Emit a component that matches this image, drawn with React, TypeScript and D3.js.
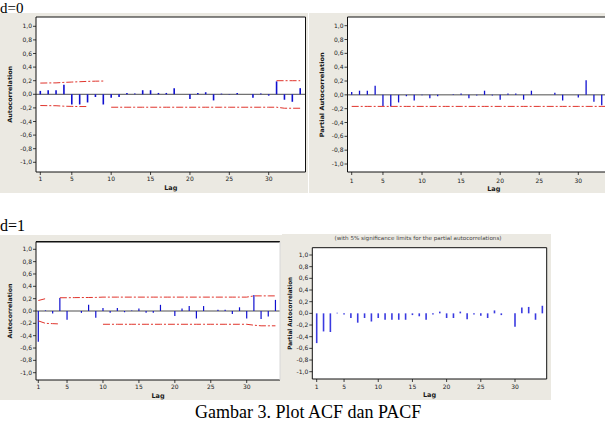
import React from 'react';
import * as d3 from 'd3';

// ---------- DATA ----------
const lags = [1, 2, 3, 4, 5, 6, 7, 8, 9, 10, 11, 12, 13, 14, 15, 16, 17, 18, 19, 20, 21, 22, 23, 24, 25, 26, 27, 28, 29, 30, 31, 32, 33, 34];
const xTickLags = [1, 5, 10, 15, 20, 25, 30];
const yTickValues = [1, 0.8, 0.6, 0.4, 0.2, 0, -0.2, -0.4, -0.6, -0.8, -1];
const yTickLabels = ['1,0', '0,8', '0,6', '0,4', '0,2', '0,0', '-0,2', '-0,4', '-0,6', '-0,8', '-1,0'];

// d = 0
const acfD0 = [0.05, 0.06, 0.06, 0.14, -0.15, -0.15, -0.12, -0.04, -0.15, -0.05, -0.04, 0.02, 0.01, 0.06, 0.06, 0.02, 0.02, 0.09, 0.0, -0.07, 0.02, 0.03, -0.09, 0.01, -0.005, 0.02, 0.0, -0.05, 0.01, -0.02, 0.19, -0.08, -0.11, 0.09];
const acfD0Upper = [0.165, 0.167, 0.168, 0.175, 0.18, 0.185, 0.19, 0.193, 0.195, null, null, null, null, null, null, null, null, null, null, null, null, null, null, null, null, null, null, null, null, null, 0.2, 0.2, 0.2, 0.2];
const acfD0Lower = [-0.165, -0.167, -0.168, -0.175, -0.178, -0.18, -0.18, null, null, -0.19, -0.19, -0.19, -0.19, -0.19, -0.19, -0.19, -0.19, -0.19, -0.19, -0.19, -0.19, -0.19, -0.19, -0.19, -0.19, -0.19, -0.19, -0.19, -0.19, -0.19, -0.19, -0.205, -0.205, -0.205];
const pacfD0 = [0.04, 0.06, 0.06, 0.13, -0.16, -0.17, -0.11, -0.02, -0.08, -0.005, -0.05, -0.02, 0.0, 0.01, 0.02, -0.05, -0.01, 0.06, -0.01, -0.07, 0.02, 0.02, -0.07, 0.06, 0.0, 0.0, 0.03, -0.08, 0.0, -0.04, 0.21, -0.1, -0.15, 0.06];
const pacfD0Lower = [-0.167, -0.167, -0.167, -0.167, -0.167, -0.167, -0.167, -0.167, -0.167, -0.167, -0.167, -0.167, -0.167, -0.167, -0.167, -0.167, -0.167, -0.167, -0.167, -0.167, -0.167, -0.167, -0.167, -0.167, -0.167, -0.167, -0.167, -0.167, -0.167, -0.167, -0.167, -0.167, -0.167, -0.167];

// d = 1
const acfD1 = [-0.5, 0.01, -0.04, 0.21, -0.14, 0.0, -0.03, 0.1, -0.11, 0.05, -0.03, 0.05, -0.02, 0.01, 0.04, -0.03, -0.03, 0.1, 0.0, -0.08, 0.04, 0.08, -0.12, 0.08, 0.0, 0.02, 0.02, -0.05, 0.06, -0.12, 0.26, -0.13, -0.09, 0.18];
const acfD1Upper = [0.17, 0.2, null, 0.215, 0.215, 0.217, 0.218, 0.219, 0.22, 0.225, 0.225, 0.225, 0.225, 0.225, 0.225, 0.225, 0.225, 0.225, 0.225, 0.225, 0.225, 0.225, 0.225, 0.225, 0.225, 0.225, 0.225, 0.225, 0.225, 0.225, 0.245, 0.245, 0.245, 0.245];
const acfD1Lower = [-0.16, -0.2, -0.205, -0.21, null, null, null, null, null, -0.215, -0.215, -0.215, -0.215, -0.215, -0.215, -0.215, -0.215, -0.215, -0.215, -0.215, -0.215, -0.215, -0.215, -0.215, -0.215, -0.215, -0.215, -0.215, -0.215, -0.215, -0.23, -0.24, -0.24, -0.24];
const pacfD1 = [-0.51, -0.31, -0.32, 0.01, -0.02, -0.08, -0.16, -0.08, -0.14, -0.08, -0.11, -0.11, -0.11, -0.11, -0.03, -0.05, -0.11, -0.02, 0.03, -0.08, -0.08, 0.03, -0.1, -0.02, -0.04, -0.08, 0.05, -0.03, 0.0, -0.23, 0.1, 0.11, -0.11, 0.13];

const sectionLabels = ['d=0', 'd=1'];
const caption = 'Gambar 3. Plot ACF dan PACF';
const pacfTitle = '(with 5% significance limits for the partial autocorrelations)';

// ---------- STYLE ----------
const BG = '#EBE9E2';
const BAR = '#1010D0';
const LIMIT = '#E0342C';
const TXT = '#1a1a1a';
const SANS = '"DejaVu Sans", Verdana, sans-serif';
const SERIF = '"Liberation Serif", "Times New Roman", serif';

type PanelProps = {
  values: number[];
  limits: (number | null)[][];
  frame: { l: number; t: number; r: number; b: number };
  x1: number; x30: number; yTop: number; yBot: number;
  xLabY: number; lagY: number; yTitleX: number; yTitle: string; yTitleLen: number;
  barW: number; barColor: string; zeroLine: boolean; rightBorder: string; topW: number;
  tickFont: number;
};

function Panel(p: PanelProps) {
  const x = d3.scaleLinear().domain([1, 30]).range([p.x1, p.x30]);
  const y = d3.scaleLinear().domain([-1, 1]).range([p.yBot, p.yTop]);
  const line = d3
    .line<number | null>()
    .defined((d) => d != null)
    .x((_, i) => x(lags[i]))
    .y((d) => y(d as number));
  const { l, t, r, b } = p.frame;
  return (
    <g>
      <rect x={l} y={t} width={r - l} height={b - t} fill="#fff" />
      {p.zeroLine && <line x1={l} x2={r} y1={y(0)} y2={y(0)} stroke="#222" strokeWidth={0.8} />}
      {p.values.map((v, i) => (
        <line key={i} x1={x(lags[i])} x2={x(lags[i])} y1={y(0)} y2={y(v)} stroke={p.barColor} strokeWidth={p.barW} />
      ))}
      {p.limits.map((arr, k) => (
        <path key={k} d={line(arr) || ''} fill="none" stroke={LIMIT} strokeWidth={1} strokeDasharray="7,2,2,2" />
      ))}
      {/* frame */}
      <line x1={l} x2={r} y1={t} y2={t} stroke="#111" strokeWidth={p.topW} />
      <line x1={l} x2={l} y1={t} y2={b} stroke="#111" strokeWidth={1} />
      <line x1={l} x2={r} y1={b} y2={b} stroke="#111" strokeWidth={1} />
      <line x1={r} x2={r} y1={t} y2={b} stroke={p.rightBorder} strokeWidth={1} />
      {/* y ticks */}
      {yTickValues.map((v, i) => (
        <g key={i}>
          <line x1={l - 3} x2={l} y1={y(v)} y2={y(v)} stroke="#111" strokeWidth={0.8} />
          <text x={l - 4} y={y(v)} dy="0.35em" textAnchor="end" fontSize={p.tickFont} fontFamily={SANS} fill={TXT}>
            {yTickLabels[i]}
          </text>
        </g>
      ))}
      {/* x ticks */}
      {xTickLags.map((v) => (
        <g key={v}>
          <line x1={x(v)} x2={x(v)} y1={b} y2={b + 3} stroke="#111" strokeWidth={0.8} />
          <text x={x(v)} y={p.xLabY} dy="0.35em" textAnchor="middle" fontSize={p.tickFont} fontFamily={SANS} fill={TXT}>
            {v}
          </text>
        </g>
      ))}
      <text x={(l + r) / 2} y={p.lagY} dy="0.35em" textAnchor="middle" fontSize={6.5} fontWeight="bold" fontFamily={SANS} fill={TXT}>
        Lag
      </text>
      <text
        transform={`translate(${p.yTitleX},${(p.yTop + p.yBot) / 2}) rotate(-90)`}
        dy="0.35em"
        textAnchor="middle"
        fontSize={6}
        fontWeight="bold"
        fontFamily={SANS}
        fill={TXT}
        textLength={p.yTitleLen}
        lengthAdjust="spacingAndGlyphs"
      >
        {p.yTitle}
      </text>
    </g>
  );
}

export default function App() {
  return (
    <svg width={605} height={421} style={{ position: 'absolute', left: 0, top: 0, background: '#fff' }}>
      {/* backgrounds */}
      <rect x={0} y={13} width={308} height={180} fill={BG} />
      <rect x={309} y={13} width={296} height={180} fill={BG} />
      <rect x={0} y={235} width={282} height={165} fill={BG} />
      <rect x={282} y={234} width={269} height={166} fill={BG} />

      <text x={0} y={13} fontSize={15} fontFamily={SERIF} fill="#000">{sectionLabels[0]}</text>
      <text x={0} y={231} fontSize={16} fontFamily={SERIF} fill="#000">{sectionLabels[1]}</text>

      <Panel
        values={acfD0}
        limits={[acfD0Upper, acfD0Lower]}
        frame={{ l: 36, t: 17, r: 305.5, b: 172 }}
        x1={40.3} x30={268.7} yTop={26.3} yBot={162.3}
        xLabY={178.5} lagY={187.5} yTitleX={10} yTitle="Autocorrelation" yTitleLen={57}
        barW={1.6} barColor={BAR} zeroLine={true} rightBorder="#111" topW={1} tickFont={6}
      />
      <Panel
        values={pacfD0}
        limits={[pacfD0Lower]}
        frame={{ l: 347.5, t: 17, r: 640, b: 172 }}
        x1={351.7} x30={578.3} yTop={25.7} yBot={164}
        xLabY={180.5} lagY={189} yTitleX={321.5} yTitle="Partial Autocorrelation" yTitleLen={85}
        barW={1.3} barColor={BAR} zeroLine={true} rightBorder="#111" topW={1} tickFont={6}
      />
      <Panel
        values={acfD1}
        limits={[acfD1Upper, acfD1Lower]}
        frame={{ l: 36, t: 241.7, r: 280, b: 380 }}
        x1={38.3} x30={246.7} yTop={249.3} yBot={372.7}
        xLabY={387.3} lagY={395.7} yTitleX={10} yTitle="Autocorrelation" yTitleLen={55}
        barW={1.2} barColor={BAR} zeroLine={true} rightBorder="#d8d8d8" topW={1.5} tickFont={6}
      />
      <Panel
        values={pacfD1}
        limits={[]}
        frame={{ l: 312.3, t: 247.7, r: 546.7, b: 379 }}
        x1={316.7} x30={515} yTop={255} yBot={371.7}
        xLabY={387} lagY={395} yTitleX={290} yTitle="Partial Autocorrelation" yTitleLen={73}
        barW={1.6} barColor="#3A3AE0" zeroLine={false} rightBorder="#111" topW={1} tickFont={6}
      />
      <text x={418} y={238.5} dy="0.35em" textAnchor="middle" fontSize={5.5} fontFamily={SANS} fill="#444" textLength={167} lengthAdjust="spacingAndGlyphs">
        {pacfTitle}
      </text>

      <text x={195} y={417.5} fontSize={18} fontFamily={SERIF} fill="#000">{caption}</text>
    </svg>
  );
}
